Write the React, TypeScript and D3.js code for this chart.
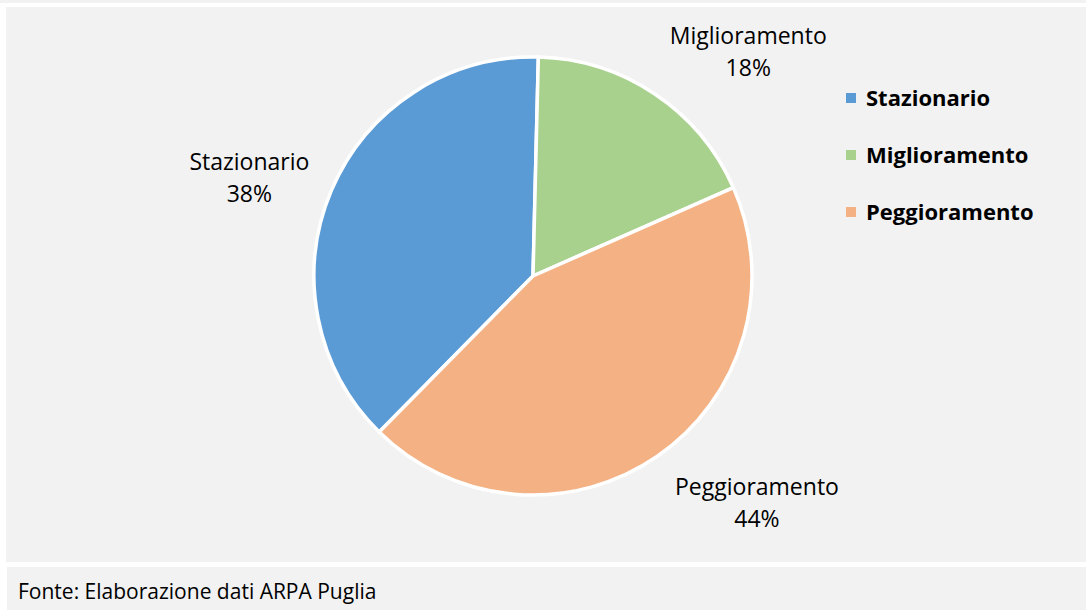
import React, { useMemo } from 'react';
import * as d3 from 'd3';

const categories = ['Stazionario', 'Miglioramento', 'Peggioramento'];
const values = [38, 18, 44];
const colors = ['#5b9bd5', '#a9d18e', '#f4b183'];
const sourceNote = 'Fonte: Elaborazione dati ARPA Puglia';

const WIDTH = 1086;
const HEIGHT = 610;
const CX = 533;
const CY = 276;
const RADIUS = 219;
// Excel "angle of first slice"
const FIRST_SLICE_DEG = 224.6;
// label placement tweaks (degrees, px from centre)
const LABEL_PLACE: Record<string, { dAngle: number; r: number }> = {
  Stazionario: { dAngle: -4, r: 300 },
  Miglioramento: { dAngle: 10, r: 311 },
  Peggioramento: { dAngle: -10, r: 319 },
};
const FONT = '"Open Sans", sans-serif';

const App: React.FC = () => {
  const arcs = useMemo(() => {
    const start = (FIRST_SLICE_DEG * Math.PI) / 180;
    return d3
      .pie<number>()
      .sort(null)
      .startAngle(start)
      .endAngle(start + 2 * Math.PI)(values);
  }, []);

  const arc = d3.arc<d3.PieArcDatum<number>>().innerRadius(0).outerRadius(RADIUS);
  const total = d3.sum(values);

  return (
    <svg width={WIDTH} height={HEIGHT} style={{ position: 'absolute', left: 0, top: 0 }}>
      <rect x={0} y={0} width={WIDTH} height={3} fill="#f2f2f2" />
      <rect x={6} y={7} width={WIDTH - 6} height={555} fill="#f2f2f2" />
      <rect x={7} y={567} width={WIDTH - 7} height={HEIGHT - 567} fill="#f2f2f2" />

      <g transform={`translate(${CX},${CY})`}>
        {arcs.map((a, i) => (
          <path key={categories[i]} d={arc(a) || ''} fill={colors[i]} stroke="#ffffff" strokeWidth={3.5} strokeLinejoin="round" />
        ))}
        {arcs.map((a, i) => {
          const p = LABEL_PLACE[categories[i]];
          const mid = (a.startAngle + a.endAngle) / 2 + (p.dAngle * Math.PI) / 180;
          const x = Math.sin(mid) * p.r;
          const y = -Math.cos(mid) * p.r;
          const pct = d3.format('.0%')(values[i] / total);
          return (
            <text key={'l' + i} x={x} y={y} textAnchor="middle" fontFamily={FONT} fontSize={23} fill="#000">
              <tspan x={x} dy={-8}>{categories[i]}</tspan>
              <tspan x={x} dy={32}>{pct}</tspan>
            </text>
          );
        })}
      </g>

      <g transform="translate(846,0)">
        {categories.map((c, i) => (
          <g key={c} transform={`translate(0,${98 + i * 57})`}>
            <rect x={0} y={-5} width={10} height={10} fill={colors[i]} />
            <text x={20} y={7.5} fontFamily={FONT} fontSize={22} fontWeight="bold" fill="#000">
              {c}
            </text>
          </g>
        ))}
      </g>

      <text x={18} y={599} fontFamily={FONT} fontSize={21} fill="#000">
        {sourceNote}
      </text>
    </svg>
  );
};

export default App;
